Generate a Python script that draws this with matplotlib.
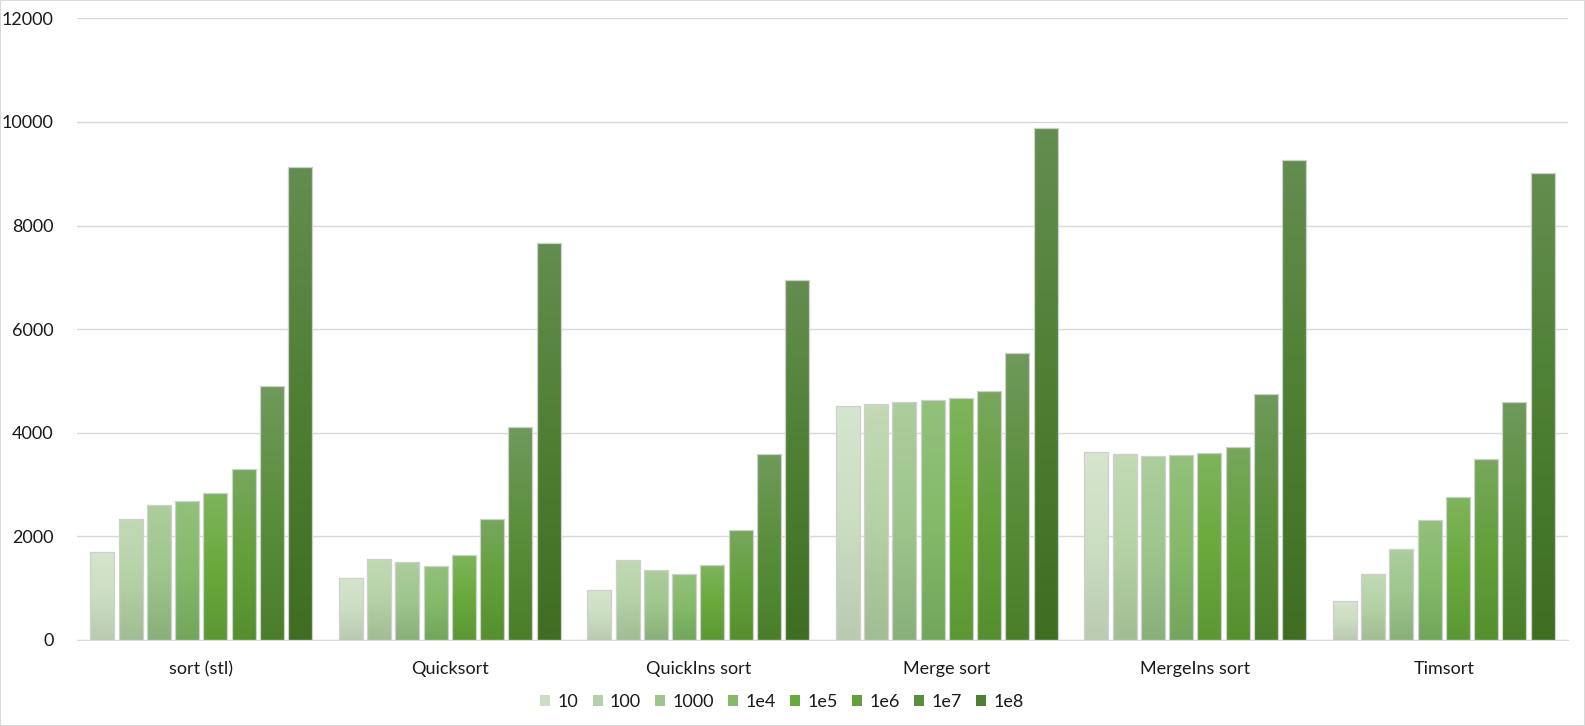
import matplotlib
matplotlib.use("Agg")
import matplotlib.pyplot as plt
import numpy as np
from matplotlib.colors import LinearSegmentedColormap
from matplotlib.patches import Patch, Rectangle

# data
algorithms = ["sort (stl)", "Quicksort", "QuickIns sort", "Merge sort", "MergeIns sort", "Timsort"]
sizes = ["10", "100", "1000", "1e4", "1e5", "1e6", "1e7", "1e8"]
n10 = [1700, 1205, 970, 4520, 3630, 760]
n100 = [2335, 1565, 1545, 4555, 3590, 1275]
n1000 = [2605, 1510, 1350, 4595, 3550, 1755]
n1e4 = [2685, 1435, 1275, 4630, 3570, 2315]
n1e5 = [2835, 1645, 1450, 4670, 3610, 2760]
n1e6 = [3300, 2340, 2125, 4805, 3725, 3495]
n1e7 = [4905, 4110, 3590, 5540, 4750, 4595]
n1e8 = [9130, 7670, 6950, 9875, 9270, 9015]

series = [n10, n100, n1000, n1e4, n1e5, n1e6, n1e7, n1e8]

# (top, middle, bottom) colours of each gradient fill
grad = [
    ("#d6e5ce", "#ccdec2", "#b9cab0"),
    ("#c2dab5", "#b5d2a6", "#a0bd93"),
    ("#acce9d", "#9ec68c", "#89b07a"),
    ("#93c17c", "#84ba69", "#72a65c"),
    ("#7db55c", "#6aaa3c", "#5b9834"),
    ("#78a75d", "#63a03b", "#558f2e"),
    ("#6f9a5b", "#5a8e3a", "#4a7e29"),
    ("#648d50", "#4e7f32", "#3f6e22"),
]

fig = plt.figure(figsize=(15.85, 7.26), dpi=100)
ax = fig.add_axes([77 / 1585, 86 / 726, 1491 / 1585, 621.7 / 726])

x = np.arange(len(algorithms))
pitch = 0.1137
width = 0.0966

for i, vals in enumerate(series):
    offs = (i - 3.5) * pitch
    cmap = LinearSegmentedColormap.from_list("g%d" % i, [grad[i][2], grad[i][1], grad[i][0]])
    bars = ax.bar(x + offs, vals, width, color="none", edgecolor="#cfcfcf", linewidth=0.9, zorder=3)
    for b in bars:
        x0, y0 = b.get_x(), b.get_y()
        w, h = b.get_width(), b.get_height()
        g = np.linspace(0, 1, 256).reshape(-1, 1)
        im = ax.imshow(g, cmap=cmap, origin="lower", aspect="auto",
                       extent=(x0, x0 + w, y0, y0 + h), zorder=2)
        im.set_clip_path(b)

ax.set_xlim(-0.5, len(algorithms) - 0.5)
ax.set_ylim(0, 12000)
ax.set_yticks(np.arange(0, 12001, 2000))
ax.set_xticks(x)
ax.set_xticklabels(algorithms)
ax.grid(axis="y", color="#d9d9d9", linewidth=1, zorder=0)
ax.set_axisbelow(True)
for s in ["top", "right", "left"]:
    ax.spines[s].set_visible(False)
ax.spines["bottom"].set_color("#d9d9d9")
ax.tick_params(axis="both", length=0, labelsize=13, colors="#1a1a1a", labelfontfamily="Lato")
ax.tick_params(axis="y", pad=17)
ax.tick_params(axis="x", pad=15)

handles = [Patch(facecolor=grad[i][1], edgecolor="none") for i in range(len(sizes))]
fig.legend(handles, sizes, loc="center", bbox_to_anchor=(782 / 1585, 1 - 702 / 726), ncol=8,
           frameon=False, handlelength=0.55, handleheight=0.55, handletextpad=0.4,
           columnspacing=0.8, prop={"family": "Lato", "size": 13}, labelcolor="#1a1a1a")

fig.patches.append(Rectangle((0, 0), 1, 1, transform=fig.transFigure, fill=False,
                             edgecolor="#d9d9d9", linewidth=1.5))

fig.savefig("out.png", dpi=100)
